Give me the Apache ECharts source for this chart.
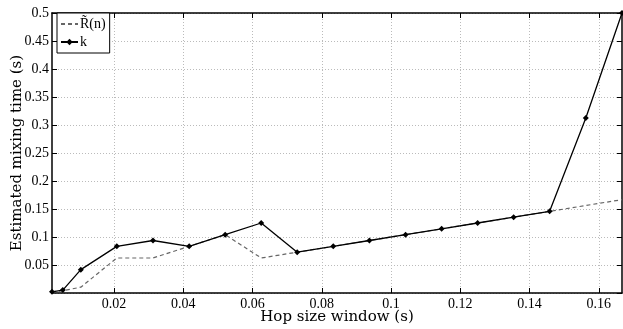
<!DOCTYPE html>
<html>
<head>
<meta charset="utf-8">
<script src="https://cdn.jsdelivr.net/npm/echarts@6/dist/echarts.min.js"></script>
<style>
  body { margin: 0; background: #fff; }
  #main { width: 623px; height: 329px; }
</style>
</head>
<body>
<div id="main"></div>
<script>
// Hop sizes (s)
let hopSizes = [0.00208, 0.0052, 0.0104, 0.0208, 0.03125, 0.0417, 0.0521, 0.0625, 0.0729,
  0.0833, 0.09375, 0.1042, 0.1146, 0.125, 0.1354, 0.1458, 0.15625, 0.1667];
// R~(n) estimate (dashed)
let rTilde = [0.0021, 0.004, 0.0104, 0.0625, 0.0625, 0.0833, 0.1042, 0.0625, 0.0729,
  0.0833, 0.09375, 0.1042, 0.1146, 0.125, 0.1354, 0.1458, 0.15625, 0.1667];
// k estimate (solid with markers)
let kValues = [0.0021, 0.0052, 0.0417, 0.0833, 0.09375, 0.0833, 0.1042, 0.125, 0.0729,
  0.0833, 0.09375, 0.1042, 0.1146, 0.125, 0.1354, 0.1458, 0.3125, 0.5];
// tick positions on the x axis
let xTicks = [0.02, 0.04, 0.06, 0.08, 0.1, 0.12, 0.14, 0.16];

const font = 'Liberation Serif';
const nameFont = 'DejaVu Serif';

function pairs(ys) {
  return hopSizes.map((x, i) => [x, ys[i]]);
}

function drawChart() {
  let myChart = echarts.init(document.getElementById('main'));
  let gridLine = { show: true, lineStyle: { color: '#bbb', type: [1, 2], width: 1 } };
  let frame = { show: true, onZero: false, lineStyle: { color: '#000', width: 1.5 } };
  let tick = { show: true, inside: true, length: 5, lineStyle: { color: '#000' } };
  let xTick = Object.assign({ customValues: xTicks }, tick);
  let option = {
    animation: false,
    backgroundColor: '#fff',
    grid: { left: 52, right: 1, top: 13, bottom: 36, containLabel: false, outerBoundsMode: 'none' },
    legend: {
      orient: 'vertical',
      left: 57,
      top: 13,
      itemGap: 4,
      itemWidth: 17,
      itemHeight: 8,
      padding: [4, 4, 4, 3],
      borderColor: '#000',
      borderWidth: 1,
      backgroundColor: '#fff',
      textStyle: { fontFamily: font, fontSize: 14, color: '#000', padding: [0, 0, 0, -3] },
      data: [{ name: 'R\u0303(n)', itemStyle: { opacity: 0 } }, { name: 'k' }]
    },
    xAxis: [{
      type: 'value',
      min: 0.00208,
      max: 0.1667,
      name: 'Hop size window (s)',
      nameLocation: 'middle',
      nameGap: 17,
      nameMoveOverlap: false,
      nameTextStyle: { fontFamily: nameFont, fontSize: 15, color: '#000' },
      axisLine: frame,
      axisTick: xTick,
      axisLabel: {
        customValues: xTicks,
        fontFamily: font, fontSize: 14, color: '#000', margin: 4,
        formatter: v => +v.toFixed(2) + ''
      },
      splitLine: gridLine
    }, {
      type: 'value',
      position: 'top',
      min: 0.00208,
      max: 0.1667,
      axisLine: frame,
      axisTick: xTick,
      axisLabel: { show: false },
      splitLine: { show: false }
    }],
    yAxis: [{
      type: 'value',
      min: 0,
      max: 0.5,
      interval: 0.05,
      name: 'Estimated mixing time (s)',
      nameLocation: 'middle',
      nameGap: 27,
      nameMoveOverlap: false,
      nameTextStyle: { fontFamily: nameFont, fontSize: 15, color: '#000' },
      axisLine: frame,
      axisTick: tick,
      axisLabel: {
        fontFamily: font, fontSize: 14, color: '#000', margin: 3,
        showMinLabel: false,
        formatter: v => +v.toFixed(2) + ''
      },
      splitLine: gridLine
    }, {
      type: 'value',
      position: 'right',
      min: 0,
      max: 0.5,
      interval: 0.05,
      axisLine: frame,
      axisTick: tick,
      axisLabel: { show: false },
      splitLine: { show: false }
    }],
    series: [{
      name: 'R\u0303(n)',
      type: 'line',
      data: pairs(rTilde),
      symbol: 'none',
      lineStyle: { color: '#666', width: 1.2, type: [4, 3] },
      itemStyle: { color: '#666' },
      z: 2
    }, {
      name: 'k',
      type: 'line',
      data: pairs(kValues),
      symbol: 'diamond',
      symbolSize: 6,
      lineStyle: { color: '#000', width: 1.3 },
      itemStyle: { color: '#000' },
      z: 3
    }]
  };
  myChart.setOption(option);
}

drawChart();
</script>
</body>
</html>
